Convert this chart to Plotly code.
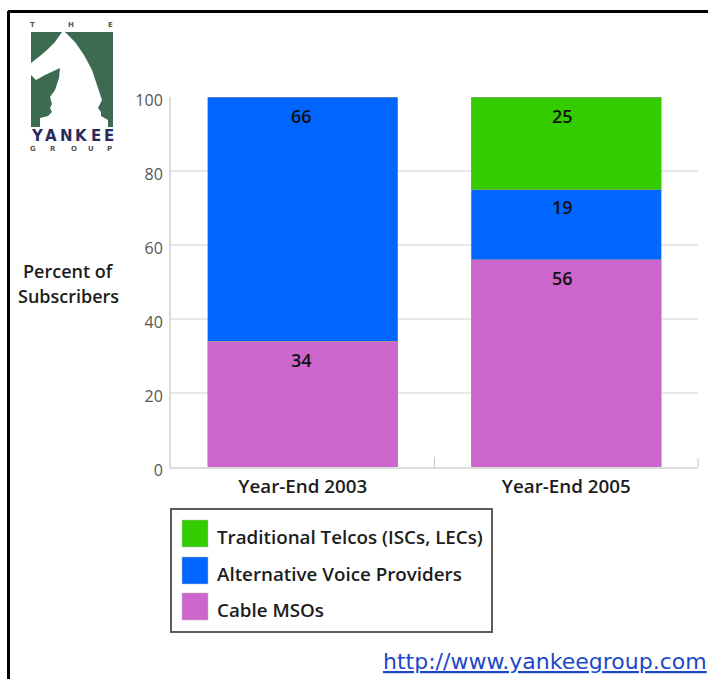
import plotly.graph_objects as go

categories = ["Year-End 2003", "Year-End 2005"]
series_names = ["Cable MSOs", "Alternative Voice Providers", "Traditional Telcos (ISCs, LECs)"]
cable = [34, 56]
alternative = [66, 19]
telcos = [None, 25]
colors = ["#CC66CC", "#0066FF", "#33CC00"]
y_ticks = [0, 20, 40, 60, 80, 100]

W, H = 708, 679
L, R, T, B = 171, 698, 97, 467
FONT = "Open Sans"
INK = "#1c1c1c"


def px(x):
    return (x - L) / (R - L)


def py(y):
    return (B - y) / (B - T)


def path(points):
    return "M" + "L".join(f"{px(a):.5f},{py(b):.5f}" for a, b in points) + "Z"


fig = go.Figure()
for name, vals, col in zip(series_names, [cable, alternative, telcos], colors):
    fig.add_trace(go.Bar(x=categories, y=vals, name=name, width=0.72,
                         marker=dict(color=col, line=dict(color="#9a9a9a", width=0.6)),
                         showlegend=False, hoverinfo="x+y+name"))

annotations = []
# Value labels, just beneath each segment's top
label_yshift = [[-19, -19], [-18, -17, -19]]
label_xshift = [-1, -4]
for i, cat in enumerate(categories):
    top = 0
    row = 0
    for vals in [cable, alternative, telcos]:
        if vals[i] is None:
            continue
        top += vals[i]
        annotations.append(dict(x=cat, y=top, xref="x", yref="y", yshift=label_yshift[i][row],
                                xshift=label_xshift[i], text=str(vals[i]),
                                showarrow=False, yanchor="middle",
                                font=dict(family=FONT, size=18, color="#111111", weight=600)))
        row += 1


def label(x, y, text, size, color=INK, anchor="center", weight=600, family=FONT):
    annotations.append(dict(x=px(x), y=py(y), xref="paper", yref="paper", text=text, showarrow=False,
                            xanchor=anchor, yanchor="middle",
                            font=dict(family=family, size=size, color=color, weight=weight)))


label(68, 271, "Percent of", 18)
label(68, 296, "Subscribers", 18)
label(381, 661, "<a href='http://www.yankeegroup.com' style='color:#1c49c8'><u>http://www.yankeegroup.com</u></a>",
      22, color="#1c49c8", anchor="left", weight=400, family="DejaVu Sans")

shapes = [
    # page frame
    dict(type="line", xref="paper", yref="paper", x0=px(8), x1=px(708), y0=py(11.5), y1=py(11.5),
         line=dict(color="#000000", width=3)),
    dict(type="line", xref="paper", yref="paper", x0=px(8.5), x1=px(8.5), y0=py(11), y1=py(679),
         line=dict(color="#000000", width=3)),
    # legend box
    dict(type="rect", xref="paper", yref="paper", x0=px(171), x1=px(492), y0=py(509), y1=py(632),
         line=dict(color="#5c5c5c", width=2), fillcolor="#ffffff"),
    # right-end axis tick
    dict(type="line", xref="paper", yref="paper", x0=1, x1=1, y0=0, y1=py(458),
         line=dict(color="#c8c8c8", width=1)),
]

legend_rows = [(2, 537), (1, 574), (0, 610)]
for idx, yc in legend_rows:
    shapes.append(dict(type="rect", xref="paper", yref="paper", x0=px(182), x1=px(208),
                       y0=py(yc - 17), y1=py(yc + 10),
                       line=dict(color="#bbbbbb", width=0.5), fillcolor=colors[idx]))
    label(215, yc, series_names[idx], 18.8, anchor="left")

# Logo
GREEN = "#3D6B52"
logo_shapes = [
    [(31, 32), (62, 32), (55, 42), (47, 50), (40, 56), (31, 63)],
    [(65, 32), (113, 32), (113, 127), (108, 127), (108, 120), (101, 116), (101, 112), (98, 108), (100, 104),
     (102, 100), (97, 85), (92, 70), (84, 55), (75, 42)],
    [(31, 75), (36, 80), (45, 75), (60, 68), (59, 78), (55, 90), (50, 97), (52, 104), (50, 108), (52, 112),
     (48, 116), (40, 118), (40, 127), (31, 127)],
]
for pts in logo_shapes:
    shapes.append(dict(type="path", xref="paper", yref="paper", path=path(pts), fillcolor=GREEN, line=dict(width=0)))

for ch, x in zip("THE", [32, 71, 110]):
    label(x, 25, ch, 7, color="#555555", weight=700, family="DejaVu Sans")
for ch, x in zip("YANKEE", [37, 51, 66, 81, 96, 109]):
    label(x, 136, ch, 15, color="#2a2a5c", weight=700, family="DejaVu Sans")
for ch, x in zip("GROUP", [33, 53, 74, 91, 109]):
    label(x, 149, ch, 7, color="#555555", weight=700, family="DejaVu Sans")

fig.update_layout(
    barmode="stack", width=W, height=H, autosize=False,
    margin=dict(l=L, r=W - R, t=T, b=H - B, autoexpand=False),
    paper_bgcolor="white", plot_bgcolor="white", bargap=0.28,
    shapes=shapes, annotations=annotations,
    xaxis=dict(type="category", categoryorder="array", categoryarray=categories,
               range=[-0.5, 1.5], tickson="boundaries", ticks="inside", ticklen=10, tickcolor="#c8c8c8",
               tickwidth=1, showline=True, linecolor="#dddddd", linewidth=2, showgrid=False,
               tickfont=dict(family=FONT, size=18.8, color=INK, weight=600), ticklabelstandoff=1),
    yaxis=dict(range=[0, 100], tickvals=y_ticks, showgrid=True, gridcolor="#e8e8e8", gridwidth=1.5,
               showline=True, linecolor="#dddddd", linewidth=2, zeroline=False, ticklabelshift=3,
               ticks="", tickfont=dict(family=FONT, size=16, color="#555555"), ticklabelstandoff=3),
)

fig.write_html("out.html", post_script="document.body.style.margin='0';", config={"displayModeBar": False})
